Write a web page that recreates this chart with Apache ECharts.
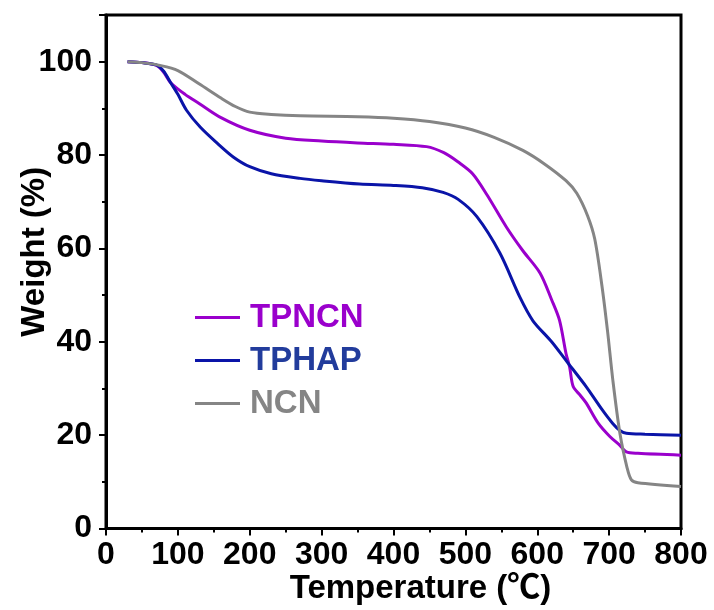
<!DOCTYPE html>
<html>
<head>
<meta charset="utf-8">
<script src="https://cdn.jsdelivr.net/npm/echarts@6/dist/echarts.min.js"></script>
<style>html,body{margin:0;padding:0;background:#fff;}#c{width:714px;height:610px;}</style>
</head>
<body>
<div id="c"></div>
<script>
const seriesNames = ['TPNCN', 'TPHAP', 'NCN'];
const tpncnT = [30, 50, 70, 80, 90, 110, 130, 160, 200, 250, 300, 350, 400, 446, 470, 490, 510, 530, 557, 580, 604, 620, 631, 640, 645, 650, 660, 668, 685, 701, 715, 724, 740, 800];
const tpncnW = [100, 99.8, 99.2, 97.8, 95.5, 93, 91, 88, 85.3, 83.6, 83, 82.6, 82.3, 81.8, 80.5, 78.5, 76, 71.5, 64.6, 59.5, 54.7, 49, 44.6, 37.5, 34.6, 30.4, 28.5, 26.9, 22.5, 19.7, 17.8, 16.4, 16.1, 15.7];
const tphapT = [30, 50, 70, 80, 90, 100, 112, 131, 155, 177, 200, 230, 270, 300, 353, 400, 440, 469, 490, 516, 548, 576, 594, 620, 641, 668, 690, 705, 715, 724, 750, 800];
const tphapW = [100, 99.8, 99.3, 98, 95.5, 93, 89.6, 86, 82.5, 79.6, 77.5, 76, 75, 74.5, 73.8, 73.5, 73, 72, 70.5, 66.8, 59, 49.5, 44.5, 40, 35.8, 30.4, 25.5, 22.5, 21, 20.4, 20.2, 20.0];
const ncnT = [30, 50, 75, 100, 130, 160, 180, 200, 230, 270, 350, 400, 450, 500, 540, 580, 610, 640, 655, 670, 680, 690, 698, 705, 715, 725, 731, 740, 800];
const ncnW = [100, 99.8, 99.2, 98.1, 95.2, 92.2, 90.4, 89.2, 88.7, 88.4, 88.2, 87.9, 87.2, 85.8, 83.8, 81, 78.1, 74.5, 71.8, 67, 62, 52, 42, 32, 20.4, 13, 10.4, 9.8, 9.0];
const xTicks = [0, 100, 200, 300, 400, 500, 600, 700, 800];
const yTicks = [0, 20, 40, 60, 80, 100];

const pair = (t, w) => t.map((v, i) => [v, w[i]]);
const lineColors = ['#9a00cc', '#0a14a8', '#858585'];
const textColors = ['#9a00cc', '#223c9c', '#858585'];
const FONT = '"Liberation Sans", Arial, "Noto Sans CJK SC", sans-serif';

const chart = echarts.init(document.getElementById('c'));
chart.setOption({
  animation: false,
  grid: { left: 106, right: 33, top: 15, bottom: 81.5, containLabel: false, outerBoundsMode: 'none', show: true, borderColor: '#000', borderWidth: 3, backgroundColor: 'transparent' },
  legend: {
    orient: 'vertical', left: 190, top: 296, icon: 'rect', itemWidth: 45, itemHeight: 3, itemGap: 10,
    data: seriesNames.map((n, i) => ({ name: n, textStyle: { color: textColors[i] } })),
    textStyle: { fontFamily: FONT, fontWeight: 'bold', fontSize: 33, padding: [0, 0, 0, 5] }
  },
  xAxis: {
    type: 'value', min: xTicks[0], max: xTicks[xTicks.length - 1], interval: 100,
    name: 'Temperature (℃)', nameLocation: 'middle', nameGap: 44, nameMoveOverlap: false,
    nameTextStyle: { fontFamily: FONT, fontWeight: 'bold', fontSize: 33, color: '#000', padding: [0, 0, 0, 54] },
    axisLine: { show: true, lineStyle: { color: '#000', width: 3 } },
    axisTick: { show: true, inside: false, length: 7, lineStyle: { color: '#000', width: 2 } },
    minorTick: { show: true, splitNumber: 2, length: 4, lineStyle: { color: '#000', width: 2 } },
    axisLabel: { fontFamily: FONT, fontWeight: 'bold', fontSize: 32, color: '#000', margin: 11 },
    splitLine: { show: false }
  },
  yAxis: {
    type: 'value', min: yTicks[0], max: 110, interval: 20,
    name: 'Weight (%)', nameLocation: 'middle', nameGap: 55, nameMoveOverlap: false,
    nameTextStyle: { fontFamily: FONT, fontWeight: 'bold', fontSize: 33, color: '#000', padding: [0, 0, 0, 40] },
    axisLine: { show: true, lineStyle: { color: '#000', width: 3 } },
    axisTick: { show: true, inside: false, length: 7, lineStyle: { color: '#000', width: 2 } },
    minorTick: { show: true, splitNumber: 2, length: 4, lineStyle: { color: '#000', width: 2 } },
    axisLabel: { fontFamily: FONT, fontWeight: 'bold', fontSize: 32, color: '#000', margin: 14, showMaxLabel: false },
    splitLine: { show: false }
  },
  series: [
    { name: seriesNames[0], type: 'line', data: pair(tpncnT, tpncnW) },
    { name: seriesNames[1], type: 'line', data: pair(tphapT, tphapW) },
    { name: seriesNames[2], type: 'line', data: pair(ncnT, ncnW) }
  ].map((s, i) => Object.assign(s, { symbol: 'none', smooth: 0.3, color: lineColors[i], lineStyle: { width: 3, color: lineColors[i] } }))
});
</script>
</body>
</html>
